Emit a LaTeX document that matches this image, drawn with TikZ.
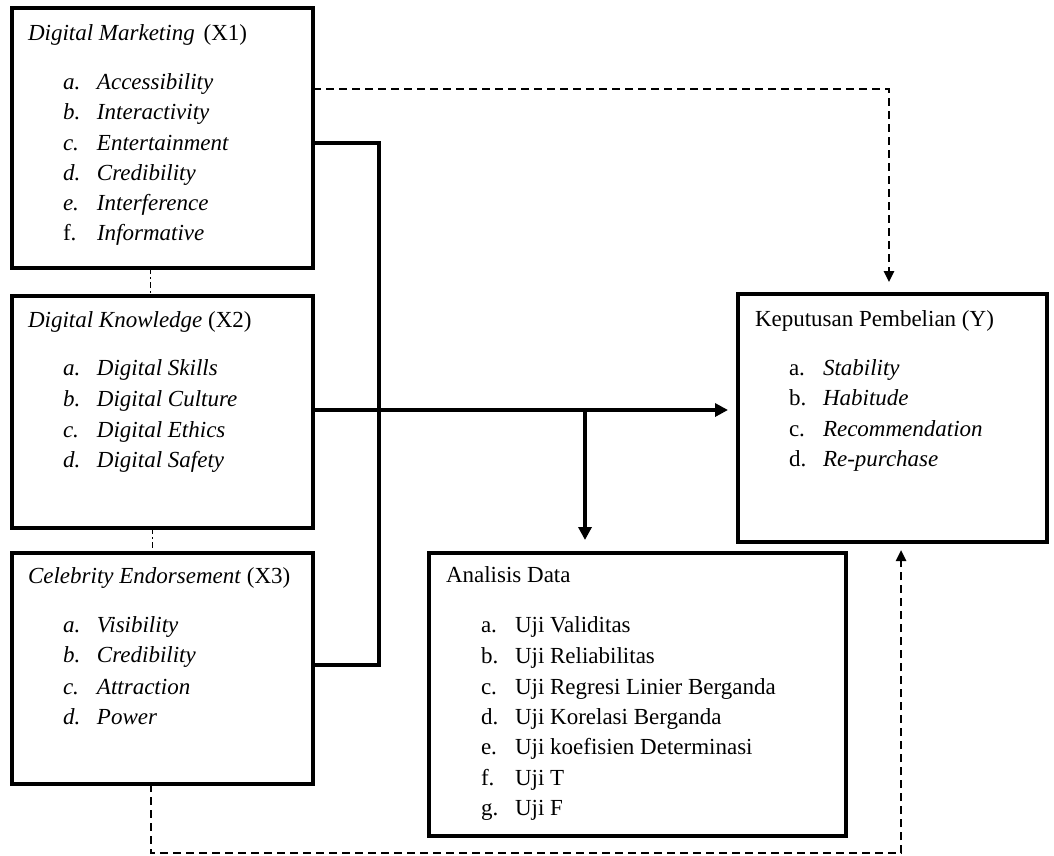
\documentclass[tikz,border=0pt]{standalone}
\usepackage{fontspec}
\setmainfont{Liberation Serif}
\usetikzlibrary{arrows.meta,calc}
\newcommand\itemlab[1]{\makebox[34pt][l]{#1}}
\tikzset{
  box/.style={draw, line width=3.5pt, inner sep=0pt, outer sep=0pt, line join=miter},
  txt/.style={anchor=base west, inner sep=0pt, outer sep=0pt, font=\fontsize{23}{28}\selectfont},
  conn/.style={line width=3.5pt, line join=miter},
  dsh/.style={line width=2.5pt, dash pattern=on 8pt off 5pt},
  dd/.style={line width=1.6pt, dash pattern=on 6pt off 3pt on 2pt off 3pt},
  bigtip/.style={-{Triangle[length=13pt,width=13pt]}},
  smalltip/.style={-{Triangle[length=11pt,width=10pt]}}
}
\begin{document}
\begin{tikzpicture}[x=1pt,y=-1pt]
\useasboundingbox (0,0) rectangle (1054,855);
% boxes
\node[box, minimum width=301pt, minimum height=260pt] (x1) at (162.5,138) {};
\node[box, minimum width=301pt, minimum height=232pt] (x2) at (162.5,412) {};
\node[box, minimum width=301pt, minimum height=231pt] (x3) at (162.5,668.5) {};
\node[box, minimum width=309pt, minimum height=248pt] (y) at (892.5,418) {};
\node[box, minimum width=417pt, minimum height=283pt] (ad) at (637.5,694.5) {};
% X1 text
\node[txt] (x1t) at (28,40) {\textit{Digital Marketing}\hspace{9pt}(X1)};
\node[txt] (x1a) at (63,89) {\itemlab{\textit{a.}}\textit{Accessibility}};
\node[txt] (x1b) at (63,119) {\itemlab{\textit{b.}}\textit{Interactivity}};
\node[txt] (x1c) at (63,150) {\itemlab{\textit{c.}}\textit{Entertainment}};
\node[txt] (x1d) at (63,180) {\itemlab{\textit{d.}}\textit{Credibility}};
\node[txt] (x1e) at (63,210) {\itemlab{\textit{e.}}\textit{Interference}};
\node[txt] (x1f) at (63,240) {\itemlab{f.}\textit{Informative}};
% X2 text
\node[txt] (x2t) at (28,327) {\textit{Digital Knowledge} (X2)};
\node[txt] (x2a) at (63,375) {\itemlab{\textit{a.}}\textit{Digital Skills}};
\node[txt] (x2b) at (63,406) {\itemlab{\textit{b.}}\textit{Digital Culture}};
\node[txt] (x2c) at (63,437) {\itemlab{\textit{c.}}\textit{Digital Ethics}};
\node[txt] (x2d) at (63,467) {\itemlab{\textit{d.}}\textit{Digital Safety}};
% X3 text
\node[txt] (x3t) at (28,583) {\textit{Celebrity Endorsement} (X3)};
\node[txt] (x3a) at (63,632) {\itemlab{\textit{a.}}\textit{Visibility}};
\node[txt] (x3b) at (63,662) {\itemlab{\textit{b.}}\textit{Credibility}};
\node[txt] (x3c) at (63,694) {\itemlab{\textit{c.}}\textit{Attraction}};
\node[txt] (x3d) at (63,724) {\itemlab{\textit{d.}}\textit{Power}};
% Y text
\node[txt] (yt) at (755,326) {Keputusan Pembelian (Y)};
\node[txt] (ya) at (789,375) {\itemlab{a.}\textit{Stability}};
\node[txt] (yb) at (789,405) {\itemlab{b.}\textit{Habitude}};
\node[txt] (yc) at (789,436) {\itemlab{c.}\textit{Recommendation}};
\node[txt] (yd) at (789,466) {\itemlab{d.}\textit{Re-purchase}};
% Analisis text
\node[txt] (adt) at (446,582) {Analisis Data};
\node[txt] (ada) at (481,632) {\itemlab{a.}Uji Validitas};
\node[txt] (adb) at (481,663) {\itemlab{b.}Uji Reliabilitas};
\node[txt] (adc) at (481,694) {\itemlab{c.}Uji Regresi Linier Berganda};
\node[txt] (add) at (481,724) {\itemlab{d.}Uji Korelasi Berganda};
\node[txt] (ade) at (481,754) {\itemlab{e.}Uji koefisien Determinasi};
\node[txt] (adf) at (481,785) {\itemlab{f.}Uji T};
\node[txt] (adg) at (481,815) {\itemlab{g.}Uji F};
% dash-dot links between the variable boxes
\draw[dd] ([xshift=-12pt]x1.south) -- ([xshift=-12pt]x2.north);
\draw[dd] ([xshift=-10pt]x2.south) -- ([xshift=-10pt]x3.north);
% solid bus
\draw[conn] ([yshift=-5pt]x1.east) -| ([xshift=66pt,yshift=3.5pt]x3.east) -- ([yshift=3.5pt]x3.east);
\draw[conn,bigtip,shorten >=10pt] ([yshift=2pt]x2.east) -- ([yshift=2pt]x2.east -| y.west);
\coordinate (drop) at ([xshift=-52.5pt]ad.north);
\draw[conn,bigtip,shorten >=13pt] ([yshift=2pt]x2.east -| drop) -- (drop);
% dashed links
\draw[dsh,smalltip,shorten >=12pt] ([yshift=49pt]x1.east) -| ([xshift=-3.5pt]y.north);
\draw[dsh,smalltip,shorten >=8pt] ([xshift=-11.5pt]x3.south) -- ++(0,69) -| ([xshift=8.5pt]y.south);
\end{tikzpicture}
\end{document}
